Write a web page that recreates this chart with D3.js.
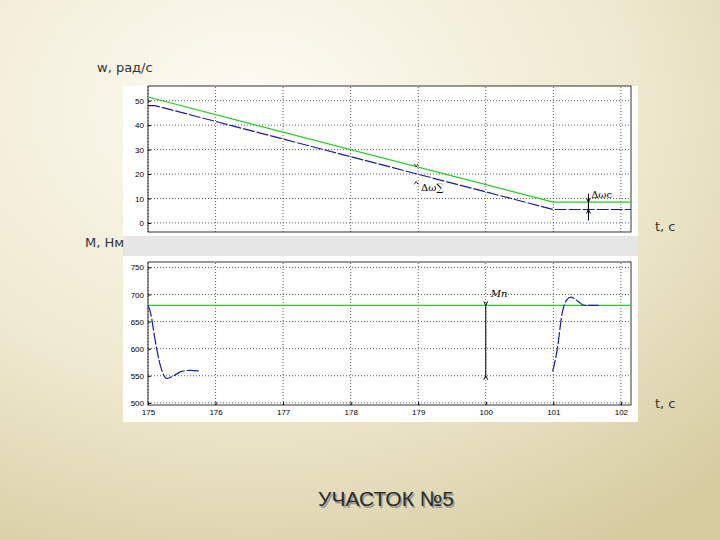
<!DOCTYPE html>
<html><head><meta charset="utf-8">
<script src="https://cdn.jsdelivr.net/npm/d3@7"></script>
<style>body{margin:0}svg{display:block}</style>
</head><body>
<script>
// x in seconds from the start of the window (label 175 = 0)
var tickLabels = ["175","176","177","178","179","100","101","102"];
var wTicks = [0,10,20,30,40,50];
var mTicks = [500,550,600,650,700,750];

var wGreen = [[0,51.5],[6.0,8.5],[7.15,8.5]];
var wBlue = [[0,48],[0.1,48],[6.0,5.5],[6.05,5.5],[7.15,5.5]];
var mLoad = [[0,680],[7.15,680]];
var mBlue1 = [[0,680],[0.04,665],[0.1,620],[0.18,570],[0.28,545],[0.38,550],[0.5,558],[0.62,560],[0.75,559]];
var mBlue2 = [[5.99,558],[6.06,600],[6.13,665],[6.2,690],[6.26,695],[6.36,688],[6.46,680],[6.67,680]];

var svg = d3.select("body").append("svg").attr("width",720).attr("height",540);
var defs = svg.append("defs");
var g = defs.append("radialGradient").attr("id","bg").attr("cx","35%").attr("cy","20%").attr("r","95%");
g.append("stop").attr("offset","0%").attr("stop-color","#fdfcf4");
g.append("stop").attr("offset","55%").attr("stop-color","#efe9d0");
g.append("stop").attr("offset","100%").attr("stop-color","#d6cb9f");
svg.append("rect").attr("width",720).attr("height",540).attr("fill","url(#bg)");

svg.append("rect").attr("x",123).attr("y",86).attr("width",515).attr("height",336).attr("fill","#e6e6e6");
svg.append("rect").attr("x",123).attr("y",86).attr("width",515).attr("height",150).attr("fill","#ffffff");
svg.append("rect").attr("x",123).attr("y",256).attr("width",515).attr("height",166).attr("fill","#ffffff");

var x = d3.scaleLinear().domain([0,7.15]).range([148,631]);
var yW = d3.scaleLinear().domain([-3.7,56]).range([232,86]);
var yM = d3.scaleLinear().domain([496,760]).range([405,262]);

function panel(y, ticks, showX) {
  var p = svg.append("g");
  p.selectAll(".gy").data(ticks).enter().append("line")
    .attr("x1",x(0)).attr("x2",x(7.15))
    .attr("y1",function(d){return y(d);}).attr("y2",function(d){return y(d);})
    .attr("stroke","#333").attr("stroke-width",0.8).attr("stroke-dasharray","1,2");
  p.selectAll(".gx").data(d3.range(8)).enter().append("line")
    .attr("x1",function(d){return x(d);}).attr("x2",function(d){return x(d);})
    .attr("y1",y.range()[0]).attr("y2",y.range()[1])
    .attr("stroke","#333").attr("stroke-width",0.8).attr("stroke-dasharray","1,2");
  p.append("rect").attr("x",x(0)).attr("y",y.range()[1]).attr("width",x(7.15)-x(0))
    .attr("height",y.range()[0]-y.range()[1]).attr("fill","none").attr("stroke","#000").attr("stroke-width",0.8);
  var ay = p.append("g").attr("transform","translate("+x(0)+",0)")
    .call(d3.axisLeft(y).tickValues(ticks).tickSize(-3).tickPadding(4));
  ay.select(".domain").remove();
  ay.selectAll("text").attr("font-family","Liberation Sans").attr("font-size",8);
  if (showX) {
    var ax = p.append("g").attr("transform","translate(0,"+y.range()[0]+")")
      .call(d3.axisBottom(x).tickValues(d3.range(8)).tickFormat(function(d,i){return tickLabels[i];}).tickSize(-3).tickPadding(4));
    ax.select(".domain").remove();
    ax.selectAll("text").attr("font-family","Liberation Sans").attr("font-size",8);
  }
}
panel(yW, wTicks, false);
panel(yM, mTicks, true);

var lineW = d3.line().x(function(d){return x(d[0]);}).y(function(d){return yW(d[1]);});
var lineM = d3.line().x(function(d){return x(d[0]);}).y(function(d){return yM(d[1]);});
var lineMc = d3.line().curve(d3.curveMonotoneX).x(function(d){return x(d[0]);}).y(function(d){return yM(d[1]);});

svg.append("path").attr("d",lineW(wGreen)).attr("fill","none").attr("stroke","#22cc22").attr("stroke-width",1.2);
svg.append("path").attr("d",lineW(wBlue)).attr("fill","none").attr("stroke","#1a1aa8").attr("stroke-width",1.2).attr("stroke-dasharray","12,2");
svg.append("path").attr("d",lineM(mLoad)).attr("fill","none").attr("stroke","#22cc22").attr("stroke-width",1.2);
[mBlue1,mBlue2].forEach(function(s){
  svg.append("path").attr("d",lineMc(s)).attr("fill","none").attr("stroke","#1a1aa8").attr("stroke-width",1.2).attr("stroke-dasharray","12,2");
});

// annotations
function vArrow(xv, y1, y2) {
  svg.append("line").attr("x1",xv).attr("x2",xv).attr("y1",y1).attr("y2",y2).attr("stroke","#000").attr("stroke-width",1);
  svg.append("path").attr("d","M"+(xv-2)+","+(y1-4)+"L"+xv+","+y1+"L"+(xv+2)+","+(y1-4)).attr("fill","none").attr("stroke","#000");
  svg.append("path").attr("d","M"+(xv-2)+","+(y2+4)+"L"+xv+","+y2+"L"+(xv+2)+","+(y2+4)).attr("fill","none").attr("stroke","#000");
}
vArrow(x(5), yM(680), yM(550));
svg.append("text").attr("x",x(5)+5).attr("y",yM(695)).attr("font-family","DejaVu Serif").attr("font-style","italic").attr("font-size",10).text("Mп");
vArrow(x(6.52), yW(8.5), yW(5.5));
svg.append("line").attr("x1",x(6.52)).attr("x2",x(6.52)).attr("y1",yW(12)).attr("y2",yW(1)).attr("stroke","#000");
svg.append("text").attr("x",x(6.56)).attr("y",yW(10)).attr("font-family","DejaVu Serif").attr("font-size",10).text("Δωс");
// small v / ^ markers pointing at the two lines
svg.append("path").attr("d","M"+(x(3.97)-2)+","+(yW(23)-3)+"l2,3l2,-3").attr("fill","none").attr("stroke","#000").attr("stroke-width",0.8);
svg.append("path").attr("d","M"+(x(3.97)-2)+","+(yW(17)+3)+"l2,-3l2,3").attr("fill","none").attr("stroke","#000").attr("stroke-width",0.8);
svg.append("text").attr("x",x(4.04)).attr("y",yW(13)).attr("font-family","DejaVu Serif").attr("font-size",10).text("Δω∑");

var lab = {"font-family":"Verdana, DejaVu Sans","font-size":13,"fill":"#333"};
function txt(s,xv,yv){var t=svg.append("text").attr("x",xv).attr("y",yv).text(s);for(var k in lab)t.attr(k,lab[k]);}
txt("w, рад/с",97,72);
txt("М, Нм",85,247);
txt("t, с",655,231);
txt("t, с",655,408);

svg.append("text").attr("x",386).attr("y",506).attr("text-anchor","middle").attr("font-family","Liberation Sans").attr("font-size",21)
  .attr("fill","#999").attr("transform","translate(1.5,1.5)").text("УЧАСТОК №5");
svg.append("text").attr("x",386).attr("y",506).attr("text-anchor","middle").attr("font-family","Liberation Sans").attr("font-size",21)
  .attr("fill","#2a2a2a").text("УЧАСТОК №5");
</script>
</body></html>
